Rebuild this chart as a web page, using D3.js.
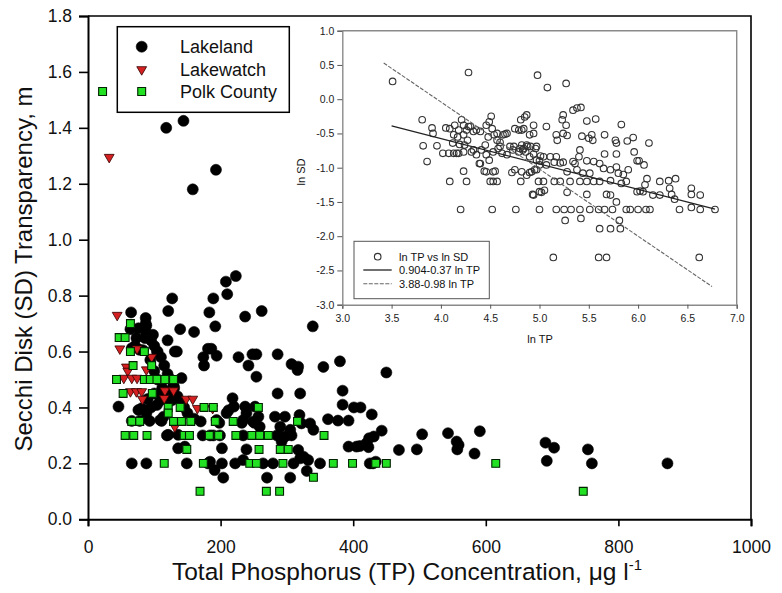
<!DOCTYPE html>
<html>
<head>
<meta charset="utf-8">
<script src="https://cdn.jsdelivr.net/npm/d3@7"></script>
<style>
  body { margin: 0; background: #fff; }
  svg { font-family: "Liberation Sans", Arial, sans-serif; }
</style>
</head>
<body>
<script>
var svgWidth = 782;
var svgHeight = 593;

// main plot data: [TP (ug/l), SD (m)]
var lakeland = [
  [118,1.40],[144,1.425],[158,1.18],[193,1.25],
  [223,0.87],[208,0.85],[210,0.805],[127,0.79],[189,0.79],
  [65,0.74],[87,0.72],[87,0.70],[121,0.745],[183,0.74],[192,0.69],[139,0.68],[160,0.67],[120,0.64],[134,0.60],
  [237,0.725],[262,0.745],[339,0.69],
  [76,0.683],[88,0.693],[73,0.648],[86,0.648],[91,0.66],[66,0.612],[78,0.606],[104,0.60],[131,0.60],
  [174,0.58],[181,0.61],[175,0.55],[194,0.585],[186,0.61],
  [227,0.58],[242,0.55],[248,0.59],[254,0.59],[286,0.59],[307,0.555],[317,0.546],[316,0.534],[355,0.545],[380,0.565],
  [384,0.46],[384,0.41],[401,0.40],[411,0.40],[428,0.375],[450,0.525],
  [286,0.45],[320,0.45],[218,0.433],[220,0.403],[212,0.39],[237,0.403],[252,0.403],[239,0.38],[257,0.367],[282,0.367],[297,0.367],[319,0.373],
  [234,0.355],[249,0.349],[259,0.331],[290,0.331],[305,0.32],[322,0.343],[335,0.343],[340,0.32],[362,0.358],[377,0.353],[393,0.353],
  [194,0.355],[184,0.30],[199,0.30],[234,0.30],[285,0.30],[297,0.296],[307,0.30],[292,0.278],
  [202,0.254],[239,0.25],[317,0.248],[325,0.224],[332,0.212],[393,0.26],[405,0.26],[420,0.272],
  [184,0.206],[202,0.20],[222,0.20],[234,0.212],[264,0.20],[279,0.20],[310,0.20],[320,0.218],[350,0.20],[425,0.20],
  [191,0.176],[204,0.149],[270,0.149],[305,0.149],[330,0.173],
  [443,0.317],[431,0.296],[424,0.29],[423,0.258],[410,0.262],[469,0.248],[496,0.25],[504,0.304],
  [543,0.308],[556,0.278],[559,0.266],[557,0.25],[583,0.235],[591,0.315],[430,0.20],[434,0.206],
  [690,0.274],[703,0.256],[692,0.209],[754,0.25],[760,0.20],[874,0.20],
  [46,0.403],[76,0.391],[81,0.397],[88,0.379],[66,0.352],[78,0.352],[93,0.352],[111,0.352],[114,0.367],
  [121,0.302],[136,0.302],[136,0.254],[146,0.26],[104,0.409],[111,0.457],[116,0.433],[141,0.505],[129,0.48],
  [124,0.46],[124,0.44],[126,0.425],[109,0.425],[105,0.60],[94,0.57],[83,0.605],[71,0.62],[64,0.68],[88,0.665],
  [66,0.20],[88,0.20],[149,0.20],[181,0.20],[119,0.30],[109,0.355],[254,0.51],[251,0.345],[232,0.345],[198,0.345],
  [173,0.30],[189,0.30],[209,0.38],
  [95,0.64],[100,0.62],[98,0.66],[110,0.58],[115,0.55],[120,0.52],[125,0.50],[100,0.53],[105,0.50],[112,0.47],
  [130,0.47],[135,0.44],[140,0.42],[145,0.40],[100,0.45],[150,0.38],[160,0.36],[170,0.35],[90,0.43],[95,0.40]
];

var lakewatch = [
  [32,1.295],[44,0.73],[48,0.61],[74,0.61],[96,0.58],[58,0.545],[60,0.53],[88,0.535],
  [54,0.505],[66,0.505],[74,0.505],[64,0.457],[73,0.457],[81,0.457],[82,0.43],
  [116,0.46],[129,0.46],[115,0.433],[148,0.43],[158,0.43],[165,0.397],[188,0.397],[131,0.331]
];

var polk = [
  [22,1.53],[64,0.70],[47,0.65],[56,0.65],[64,0.60],[85,0.60],[68,0.55],[96,0.55],
  [43,0.50],[85,0.50],[94,0.50],[104,0.50],[116,0.50],[129,0.50],[53,0.45],[97,0.45],
  [121,0.40],[139,0.40],[175,0.40],[189,0.40],[257,0.40],[121,0.38],
  [66,0.35],[78,0.35],[129,0.35],[141,0.35],[155,0.35],[192,0.35],[219,0.35],[316,0.35],
  [56,0.30],[69,0.30],[89,0.30],[145,0.30],[153,0.30],[183,0.30],[197,0.30],[223,0.30],[247,0.30],[259,0.30],[272,0.30],[356,0.30],
  [149,0.25],[258,0.25],[290,0.25],[302,0.25],
  [115,0.20],[174,0.20],[244,0.20],[254,0.20],[294,0.20],[370,0.20],[399,0.20],[434,0.20],[450,0.20],[615,0.20],
  [340,0.15],[169,0.10],[269,0.10],[289,0.10],[747,0.10]
];

// inset data: [ln TP, ln SD]
var lnPoints = [
  [3.51,0.26],[4.28,0.39],[4.98,0.35],[5.08,0.17],[5.27,0.23],
  [3.81,-0.30],[3.91,-0.42],[3.92,-0.50],[3.82,-0.68],[3.96,-0.68],[3.86,-0.91],
  [4.05,-0.42],[4.09,-0.43],[4.14,-0.38],[4.18,-0.45],[4.21,-0.30],[4.23,-0.38],[4.26,-0.45],[4.30,-0.40],[4.33,-0.47],[4.36,-0.45],
  [4.13,-0.52],[4.17,-0.55],[4.23,-0.52],[4.27,-0.60],[4.12,-0.64],[4.19,-0.66],[4.24,-0.67],
  [4.02,-0.79],[4.08,-0.79],[4.13,-0.79],[4.18,-0.79],[4.23,-0.77],
  [4.31,-0.77],[4.36,-0.81],[4.41,-0.74],[4.45,-0.67],[4.48,-0.55],[4.46,-0.38],[4.49,-0.33],[4.52,-0.43],[4.54,-0.52],[4.57,-0.60],[4.60,-0.63],[4.65,-0.51],
  [4.53,-0.77],[4.58,-0.72],[4.62,-0.79],[4.67,-0.81],[4.70,-0.69],[4.73,-0.74],[4.79,-0.77],[4.84,-0.72],[4.87,-0.67],[4.82,-0.67],
  [4.85,-0.26],[4.81,-0.30],[4.94,-0.38],[4.90,-0.52],[4.97,-0.69],[5.04,-0.84],[5.07,-0.40],[4.79,-0.45],[4.82,-0.45],[4.94,-0.50],
  [4.23,-1.05],[4.09,-1.20],[4.26,-1.20],[4.44,-1.05],[4.55,-1.05],[4.50,-1.20],[4.53,-1.20],[4.57,-1.20],[4.39,-0.94],[4.49,-0.89],
  [4.72,-1.07],[4.75,-1.03],[4.81,-1.20],[4.87,-1.11],[4.90,-1.07],[4.95,-1.03],[4.99,-1.20],[5.04,-1.20],
  [4.93,-1.39],[5.02,-1.36],[5.05,-1.33],
  [4.20,-1.61],[4.52,-1.61],[4.76,-1.61],[5.07,-0.96],
  [5.34,-0.16],[5.38,-0.13],[5.42,-0.12],[5.24,-0.23],[5.23,-0.30],[5.27,-0.38],[5.48,-0.32],[5.57,-0.29],[5.83,-0.37],
  [5.17,-0.52],[5.24,-0.50],[5.28,-0.53],[5.18,-0.60],
  [5.43,-0.54],[5.50,-0.57],[5.53,-0.52],[5.54,-0.60],[5.66,-0.52],
  [5.77,-0.60],[5.78,-0.64],[5.89,-0.61],[5.95,-0.56],[6.11,-0.64],
  [5.66,-0.80],[5.78,-0.80],[5.96,-0.77],
  [5.41,-0.74],[5.40,-0.84],[5.48,-0.90],[5.55,-0.91],[5.36,-0.94],[5.61,-0.94],
  [5.00,-0.90],[5.15,-0.92],[5.24,-0.92],[5.34,-0.91],
  [5.28,-1.06],[5.38,-1.03],[5.44,-1.08],[5.51,-1.08],[5.65,-1.01],[5.72,-1.03],[5.78,-0.99],
  [5.80,-1.08],[5.85,-1.10],[5.90,-1.03],[5.99,-0.90],[6.01,-0.90],[6.06,-0.96],
  [5.15,-1.20],[5.21,-1.20],[5.41,-1.20],[5.48,-1.20],[5.55,-1.20],[5.61,-1.20],
  [5.72,-1.19],[5.83,-1.23],[5.88,-1.20],
  [6.09,-1.16],[6.07,-1.25],[6.02,-1.34],
  [6.22,-1.20],[6.31,-1.19],[6.38,-1.16],[6.32,-1.30],[6.34,-1.39],
  [6.54,-1.30],[6.63,-1.40],[6.54,-1.39],
  [6.15,-1.40],[6.22,-1.40],[5.99,-1.35],[6.05,-1.35],[6.37,-1.46],
  [5.28,-1.36],[5.48,-1.39],[5.68,-1.39],[5.72,-1.40],[5.78,-1.50],
  [5.00,-1.61],[5.17,-1.61],[5.25,-1.61],[5.32,-1.61],[5.41,-1.61],[5.51,-1.61],[5.60,-1.61],[5.66,-1.61],[5.74,-1.61],
  [5.88,-1.61],[5.92,-1.61],[6.00,-1.61],[6.08,-1.61],[6.12,-1.61],[6.42,-1.61],[6.54,-1.58],[6.63,-1.61],[6.78,-1.61],
  [5.26,-1.77],[5.42,-1.74],[5.61,-1.89],[5.72,-1.89],[5.82,-1.89],[5.81,-1.77],
  [5.14,-2.31],[5.60,-2.31],[5.68,-2.31],[6.62,-2.31],
  [4.28,-0.40],[4.40,-0.47],[4.57,-0.50],[4.67,-0.50],[4.16,-0.79],[4.33,-0.74],[4.46,-0.81],[4.60,-0.69],
  [4.74,-0.69],[4.80,-0.72],[4.86,-0.77],[4.91,-0.69],[4.96,-0.72],[4.40,-0.94],[4.46,-1.06],[4.53,-1.06],
  [4.82,-1.06],[4.97,-1.03],[5.00,-0.96],[4.94,-1.40],[5.00,-1.35],[4.84,-0.43],
  [4.51,-0.25],[4.63,-0.52],[4.75,-0.43],[4.87,-0.23],[4.83,-0.74],[4.88,-0.69],[4.90,-0.84],[4.94,-0.80],
  [4.97,-0.89],[5.01,-0.83],[5.11,-0.84],[5.17,-0.84],[5.21,-0.93],[4.92,-1.06],[5.31,-1.20]
];

// regression fits: ln SD = a + b ln TP, drawn over [from, to]
var fits = [
  {label: "0.904-0.37 ln TP", a: 0.904, b: -0.37, from: 3.5, to: 6.78},
  {label: "3.88-0.98 ln TP", a: 3.88, b: -0.98, from: 3.42, to: 6.75}
];

var seriesNames = ["Lakeland", "Lakewatch", "Polk County"];
var xTicks = [0, 200, 400, 600, 800, 1000];
var yTicks = [0, 0.2, 0.4, 0.6, 0.8, 1.0, 1.2, 1.4, 1.6, 1.8];
var insetXTicks = [3.0, 3.5, 4.0, 4.5, 5.0, 5.5, 6.0, 6.5, 7.0];
var insetYTicks = [-3.0, -2.5, -2.0, -1.5, -1.0, -0.5, 0.0, 0.5, 1.0];

var svg = d3.select("body")
  .append("svg")
  .attr("width", svgWidth)
  .attr("height", svgHeight);

// scales
var x = d3.scaleLinear().domain([0, 1000]).range([88, 751]);
var y = d3.scaleLinear().domain([0, 1.8]).range([519.3, 16]);

var ix = d3.scaleLinear().domain([3, 7]).range([342.3, 736.7]);
var iy = d3.scaleLinear().domain([-3, 1]).range([304.7, 30.7]);

// ---------- main chart ----------
// frame (top + right)
svg.append("path")
  .attr("d", "M" + x(0) + "," + y(1.8) + "H" + x(1000) + "V" + y(0))
  .attr("fill", "none")
  .attr("stroke", "#000")
  .attr("stroke-width", 1.6);

var gX = svg.append("g")
  .attr("transform", "translate(0," + y(0) + ")")
  .call(d3.axisBottom(x).tickValues(xTicks).tickSize(7).tickPadding(14).tickFormat(d3.format("d")));

var gY = svg.append("g")
  .attr("transform", "translate(" + x(0) + ",0)")
  .call(d3.axisLeft(y).tickValues(yTicks).tickSize(9).tickPadding(7).tickFormat(d3.format(".1f")));

[gX, gY].forEach(function(g) {
  g.select(".domain").attr("stroke", "#000").attr("stroke-width", 2);
  g.selectAll(".tick line").attr("stroke", "#000").attr("stroke-width", 1.6);
  g.selectAll(".tick text").attr("font-size", 17.5).attr("fill", "#111")
    .attr("font-family", "Liberation Sans, Arial, sans-serif");
});

// axis titles
svg.append("text")
  .attr("transform", "translate(32," + 269 + ") rotate(-90)")
  .attr("text-anchor", "middle")
  .attr("font-size", 24)
  .attr("fill", "#111")
  .text("Secchi Disk (SD) Transparency, m");

var xt = svg.append("text")
  .attr("x", 407)
  .attr("y", 580)
  .attr("text-anchor", "middle")
  .attr("font-size", 24.5)
  .attr("fill", "#111");
xt.append("tspan").text("Total Phosphorus (TP) Concentration, \u03bcg l");
xt.append("tspan").attr("font-size", 15).attr("dy", -10).text("-1");

// markers
var triPath = d3.symbol().type(d3.symbolTriangle).size(42)();
var sqPath = d3.symbol().type(d3.symbolSquare).size(62)();

function drawCircle(sel) {
  sel.attr("r", 5.5).attr("fill", "#000").attr("stroke", "#000").attr("stroke-width", 0.6);
}
function drawTri(sel) {
  sel.attr("d", triPath).attr("fill", "#d42020").attr("stroke", "#300").attr("stroke-width", 0.8);
}
function drawSq(sel) {
  sel.attr("d", sqPath).attr("fill", "#22e022").attr("stroke", "#020").attr("stroke-width", 1.1);
}

svg.append("g").selectAll("circle")
  .data(lakeland).enter().append("circle")
  .attr("cx", function(d) { return x(d[0]); })
  .attr("cy", function(d) { return y(d[1]); })
  .call(drawCircle);

svg.append("g").selectAll("path")
  .data(lakewatch).enter().append("path")
  .attr("transform", function(d) { return "translate(" + x(d[0]) + "," + y(d[1]) + ") rotate(180)"; })
  .call(drawTri);

svg.append("g").selectAll("path")
  .data(polk).enter().append("path")
  .attr("transform", function(d) { return "translate(" + x(d[0]) + "," + y(d[1]) + ")"; })
  .call(drawSq);

// main legend
var legend = svg.append("g");
legend.append("rect")
  .attr("x", 117.3).attr("y", 26.7).attr("width", 172).attr("height", 85.6)
  .attr("fill", "#fff").attr("stroke", "#000").attr("stroke-width", 1.5);

var legRows = [46.7, 69.5, 91.5];
legend.append("circle").attr("cx", 141.7).attr("cy", legRows[0]).call(drawCircle);
legend.append("path").attr("transform", "translate(141.7," + legRows[1] + ") rotate(180)").call(drawTri);
legend.append("path").attr("transform", "translate(141.7," + legRows[2] + ")").call(drawSq);
legend.selectAll("text.leg")
  .data(seriesNames).enter().append("text")
  .attr("class", "leg")
  .attr("x", 180)
  .attr("y", function(d, i) { return legRows[i] + 6.3; })
  .attr("font-size", 18)
  .attr("fill", "#111")
  .text(function(d) { return d; });

// ---------- inset ----------
var inset = svg.append("g");

inset.append("path")
  .attr("d", "M" + ix(3) + "," + iy(1) + "H" + ix(7) + "V" + iy(-3))
  .attr("fill", "none")
  .attr("stroke", "#8a8a8a")
  .attr("stroke-width", 1.4);

var igX = inset.append("g")
  .attr("transform", "translate(0," + iy(-3) + ")")
  .call(d3.axisBottom(ix).tickValues(insetXTicks).tickSize(4).tickPadding(6).tickFormat(d3.format(".1f")));

var igY = inset.append("g")
  .attr("transform", "translate(" + ix(3) + ",0)")
  .call(d3.axisLeft(iy).tickValues(insetYTicks).tickSize(5).tickPadding(3).tickFormat(d3.format(".1f")));

[igX, igY].forEach(function(g) {
  g.select(".domain").attr("stroke", "#8a8a8a").attr("stroke-width", 1.4);
  g.selectAll(".tick line").attr("stroke", "#555");
  g.selectAll(".tick text").attr("font-size", 10.5).attr("fill", "#222")
    .attr("font-family", "Liberation Sans, Arial, sans-serif");
});
// use a plain hyphen for negatives like the original
igY.selectAll(".tick text").text(function(d) { return d3.format(".1f")(d).replace("\u2212", "-"); });

inset.append("text")
  .attr("transform", "translate(305,172) rotate(-90)")
  .attr("text-anchor", "middle")
  .attr("font-size", 11)
  .attr("fill", "#111")
  .text("ln SD");

inset.append("text")
  .attr("x", 540).attr("y", 343)
  .attr("text-anchor", "middle")
  .attr("font-size", 11)
  .attr("fill", "#111")
  .text("ln TP");

inset.append("g").selectAll("circle")
  .data(lnPoints).enter().append("circle")
  .attr("cx", function(d) { return ix(d[0]); })
  .attr("cy", function(d) { return iy(d[1]); })
  .attr("r", 3.3)
  .attr("fill", "none")
  .attr("stroke", "#333")
  .attr("stroke-width", 1.1);

var line = d3.line()
  .x(function(d) { return ix(d[0]); })
  .y(function(d) { return iy(d[1]); });

function fitPoints(f) {
  return [[f.from, f.a + f.b * f.from], [f.to, f.a + f.b * f.to]];
}

inset.append("path")
  .attr("d", line(fitPoints(fits[0])))
  .attr("fill", "none").attr("stroke", "#222").attr("stroke-width", 1.3);

inset.append("path")
  .attr("d", line(fitPoints(fits[1])))
  .attr("fill", "none").attr("stroke", "#666").attr("stroke-width", 1.1)
  .attr("stroke-dasharray", "4,1.5");

// inset legend
var ileg = inset.append("g");
ileg.append("rect")
  .attr("x", 354).attr("y", 241.3).attr("width", 135.3).attr("height", 57.4)
  .attr("fill", "#fff").attr("stroke", "#555").attr("stroke-width", 1);

var iRows = [256.7, 270, 283.7];
ileg.append("circle").attr("cx", 377.7).attr("cy", iRows[0]).attr("r", 3.3)
  .attr("fill", "none").attr("stroke", "#333").attr("stroke-width", 1.1);
ileg.append("line").attr("x1", 363.3).attr("x2", 391.7).attr("y1", iRows[1]).attr("y2", iRows[1])
  .attr("stroke", "#222").attr("stroke-width", 1.3);
ileg.append("line").attr("x1", 363.3).attr("x2", 391.7).attr("y1", iRows[2]).attr("y2", iRows[2])
  .attr("stroke", "#666").attr("stroke-width", 1.1).attr("stroke-dasharray", "4,1.5");

var iLabels = ["ln TP vs ln SD", fits[0].label, fits[1].label];
ileg.selectAll("text")
  .data(iLabels).enter().append("text")
  .attr("x", 399)
  .attr("y", function(d, i) { return iRows[i] + 3.8; })
  .attr("font-size", 11)
  .attr("fill", "#111")
  .text(function(d) { return d; });
</script>
</body>
</html>
